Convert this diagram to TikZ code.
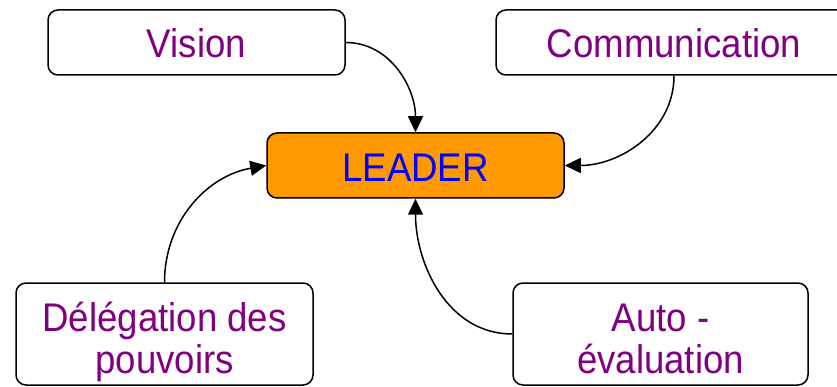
\documentclass[tikz,border=0pt]{standalone}
\usepackage{fontspec}
\setmainfont[FakeStretch=0.915]{Liberation Sans}
\usetikzlibrary{arrows.meta}
\definecolor{txtpurple}{HTML}{800080}
\definecolor{leaderorange}{HTML}{FF9900}
\begin{document}
\begin{tikzpicture}[x=1pt, y=-1pt]
\clip (0,0) rectangle (837,387);
\begin{scope}[every node/.style = {draw, line width=1.5pt, rounded corners=10pt,
    fill=white, text=txtpurple, inner sep=0pt, minimum width=297pt,
    minimum height=65pt, align=center, text height=30pt, text depth=0pt,
    font=\fontsize{40}{42}\selectfont}]
\node (vision) at (196.5, 42.5) {Vision};
\node[minimum width=356pt] (comm) at (674, 42.5) {Communication};
\node[fill=leaderorange, text=blue, text height=32pt] (leader) at (415.5, 165.5) {LEADER};
\node[minimum height=102pt, text height=78pt] (deleg) at (164.5, 334) {Délégation des\\pouvoirs};
\node[minimum height=102pt, text height=78pt, minimum width=295pt] (auto) at (660.5, 334) {Auto -\\évaluation};
\end{scope}
\begin{scope}[every edge/.style = {draw, line width=1.5pt, -{Triangle[length=16pt, width=15pt]}}]
\path (vision.east) edge[out=0, in=90] (leader.north);
\path (comm.south) edge[out=-90, in=0] (leader.east);
\path (deleg.north) edge[out=90, in=190] (leader.west);
\path (auto.west) edge[out=180, in=-90] (leader.south);
\end{scope}
\end{tikzpicture}
\end{document}
